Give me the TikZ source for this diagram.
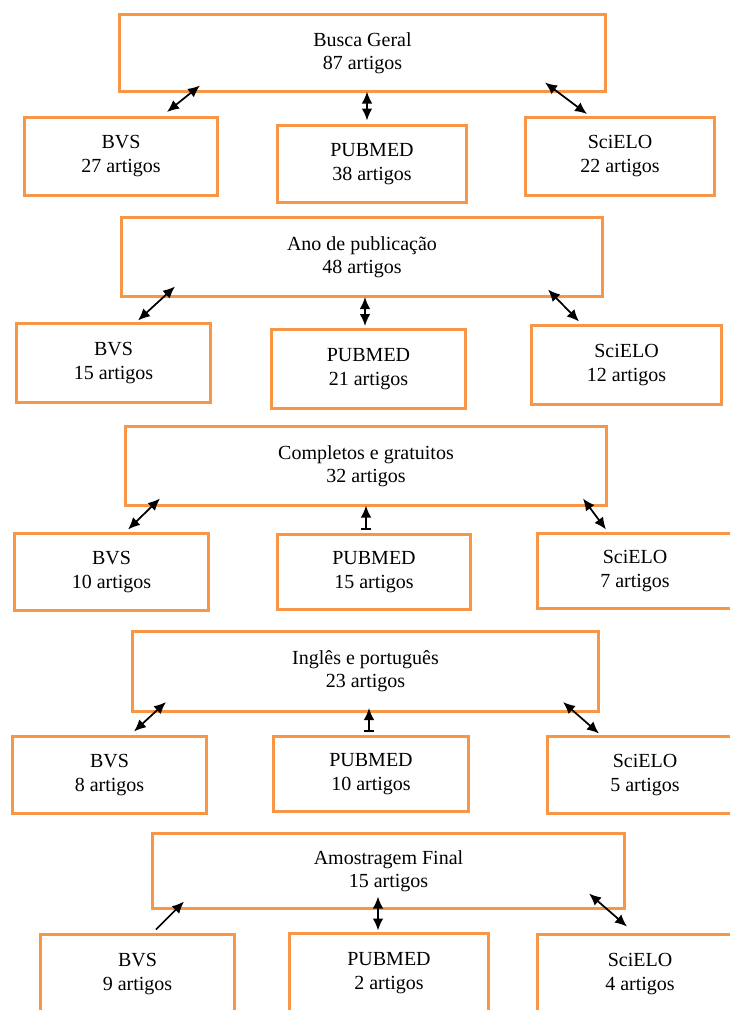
\documentclass[tikz,border=0pt]{standalone}
\usepackage{fontspec}
\setmainfont{Liberation Serif}
\usetikzlibrary{arrows.meta}
\begin{document}
\begin{tikzpicture}[x=0.75pt, y=-0.75pt,
		caixa/.style={draw=borange, line width=2.25pt, rectangle, align=center, inner sep=0,
			font=\fontsize{15}{17.5}\selectfont},
		base/.style={caixa, minimum width=194*0.75pt, minimum height=78*0.75pt},
		seta/.style={line width=1.3pt, {Latex[length=9pt,width=8pt]}-{Latex[length=9pt,width=8pt]}},
		setabarra/.style={line width=1.3pt, {Latex[length=9pt,width=8pt]}-{Bar[width=8pt]}},
		setaum/.style={line width=1.3pt, {Latex[length=9pt,width=8pt]}-}]
		\definecolor{borange}{RGB}{247,150,70}
		\useasboundingbox (0,0) rectangle (729,1010);
		% busca geral
		\node (g1) at (362.5,53) [caixa, minimum width=486*0.75pt, minimum height=77*0.75pt] {Busca Geral\\87 artigos};
		\node (b1) at (121,156) [base, minimum width=193*0.75pt] {BVS\\27 artigos};
		\node (p1) at (372,164) [base, minimum width=189*0.75pt, minimum height=77*0.75pt] {PUBMED\\38 artigos};
		\node (s1) at (620,156) [base, minimum width=189*0.75pt] {SciELO\\22 artigos};
		\draw[seta] ([shift={(-162.5,-7.5)}]g1.south) -- ([shift={(46,-3.5)}]b1.north);
		\draw[seta] ([shift={(4.5,-1.5)}]g1.south) -- ([shift={(-5,-3.5)}]p1.north);
		\draw[seta] ([shift={(182.5,-10.5)}]g1.south) -- ([shift={(-33,-1.5)}]s1.north);
		% ano de publicacao
		\node (g2) at (362,257) [caixa, minimum width=481*0.75pt, minimum height=79*0.75pt] {Ano de publicação\\48 artigos};
		\node (b2) at (113.5,363) [base, minimum height=79*0.75pt] {BVS\\15 artigos};
		\node (p2) at (368.5,369) [base, minimum height=79*0.75pt] {PUBMED\\21 artigos};
		\node (s2) at (626.5,365) [base, minimum width=190*0.75pt, minimum height=79*0.75pt] {SciELO\\12 artigos};
		\draw[seta] ([shift={(-187,-11.5)}]g2.south) -- ([shift={(24.5,-1.5)}]b2.north);
		\draw[seta] ([shift={(3,-1)}]g2.south) -- ([shift={(-3.5,-2)}]p2.north);
		\draw[seta] ([shift={(186,-8.5)}]g2.south) -- ([shift={(-47.5,-2.5)}]s2.north);
		% completos e gratuitos
		\node (g3) at (366,466) [caixa, minimum width=481*0.75pt, minimum height=79*0.75pt] {Completos e gratuitos\\32 artigos};
		\node (b3) at (111.5,572) [base, minimum height=77*0.75pt] {BVS\\10 artigos};
		\node (p3) at (374,572) [base, minimum width=193*0.75pt, minimum height=75*0.75pt] {PUBMED\\15 artigos};
		\node (s3) at (635,571) [base, minimum width=196*0.75pt, minimum height=75*0.75pt] {SciELO\\7 artigos};
		\draw[seta] ([shift={(-206,-8.5)}]g3.south) -- ([shift={(16.5,-2.5)}]b3.north);
		\draw[setabarra] ([shift={(0,-1.5)}]g3.south) -- ([shift={(-8,-3)}]p3.north);
		\draw[seta] ([shift={(217,-8.5)}]g3.south) -- ([shift={(-29,-2.5)}]s3.north);
		% ingles e portugues
		\node (g4) at (365.5,671) [caixa, minimum width=466*0.75pt, minimum height=80*0.75pt] {Inglês e português\\23 artigos};
		\node (b4) at (109.5,775) [base, minimum height=77*0.75pt] {BVS\\8 artigos};
		\node (p4) at (371,774) [base, minimum width=195*0.75pt, minimum height=75*0.75pt] {PUBMED\\10 artigos};
		\node (s4) at (645,775) [base, minimum width=196*0.75pt, minimum height=77*0.75pt] {SciELO\\5 artigos};
		\draw[seta] ([shift={(-199.5,-10.5)}]g4.south) -- ([shift={(24.5,-3.5)}]b4.north);
		\draw[setabarra] ([shift={(3.5,-4.5)}]g4.south) -- ([shift={(-2,-3.5)}]p4.north);
		\draw[seta] ([shift={(197.5,-10.5)}]g4.south) -- ([shift={(-46,-1.5)}]s4.north);
		% amostragem final
		\node (g5) at (388.5,871) [caixa, minimum width=472*0.75pt, minimum height=75*0.75pt] {Amostragem Final\\15 artigos};
		\node (b5) at (137.5,974) [base, minimum height=79*0.75pt] {BVS\\9 artigos};
		\node (p5) at (389,973) [base, minimum width=199*0.75pt, minimum height=79*0.75pt] {PUBMED\\2 artigos};
		\node (s5) at (640,974) [base, minimum width=205*0.75pt, minimum height=79*0.75pt] {SciELO\\4 artigos};
		\draw[setaum] ([shift={(-204.5,-8.5)}]g5.south) -- ([shift={(18.5,-3.5)}]b5.north);
		\draw[seta] ([shift={(-10.5,-13.5)}]g5.south) -- ([shift={(-11,-1.5)}]p5.north);
		\draw[seta] ([shift={(200.5,-16.5)}]g5.south) -- ([shift={(-13,-6.5)}]s5.north);
	\end{tikzpicture}
\end{document}
